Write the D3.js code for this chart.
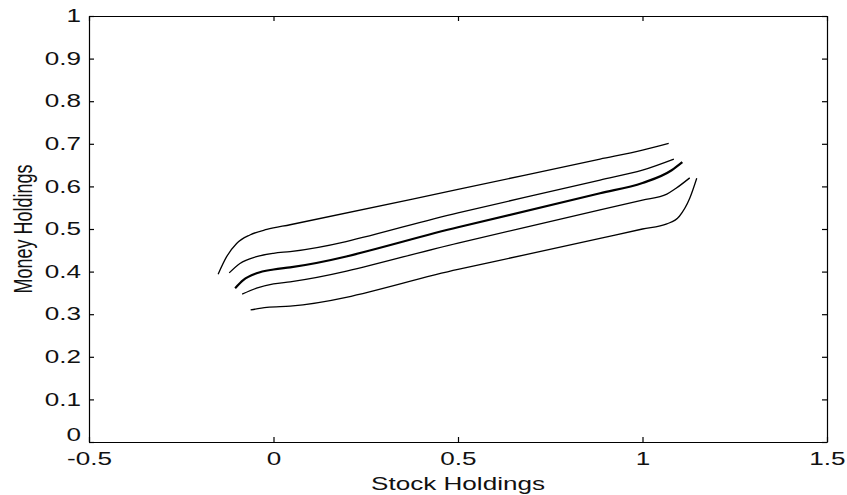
<!DOCTYPE html>
<html>
<head>
<meta charset="utf-8">
<script src="https://cdn.jsdelivr.net/npm/d3@7"></script>
<style>
	body { margin: 0; background: #fff; }
	svg text { font-family: "Liberation Sans", Arial, sans-serif; }
</style>
</head>
<body>
<svg id="chart" width="847" height="495"></svg>
<script>
var xTicks = [ -0.5, 0, 0.5, 1, 1.5 ];
var yTicks = [ 0, 0.1, 0.2, 0.3, 0.4, 0.5, 0.6, 0.7, 0.8, 0.9, 1 ];

// five boundary curves (top to bottom)
var stock1 = [ -0.150, -0.127, -0.100, -0.064, -0.018, 0.045, 0.500, 0.885, 1.000, 1.071 ];
var money1 = [ 0.394, 0.435, 0.466, 0.486, 0.499, 0.510, 0.593, 0.664, 0.685, 0.701 ];

var stock2 = [ -0.120, -0.091, -0.046, 0.000, 0.045, 0.500, 0.885, 1.000, 1.085 ];
var money2 = [ 0.397, 0.419, 0.435, 0.443, 0.447, 0.538, 0.615, 0.638, 0.664 ];

var stock3 = [ -0.104, -0.082, -0.046, 0.000, 0.045, 0.500, 0.885, 1.000, 1.079, 1.108 ];
var money3 = [ 0.361, 0.380, 0.396, 0.405, 0.410, 0.504, 0.584, 0.608, 0.638, 0.657 ];

var stock4 = [ -0.085, -0.046, 0.000, 0.045, 0.500, 0.885, 1.000, 1.066, 1.090, 1.128 ];
var money4 = [ 0.347, 0.361, 0.371, 0.376, 0.467, 0.545, 0.568, 0.582, 0.595, 0.620 ];

var stock5 = [ -0.062, -0.018, 0.045, 0.500, 0.885, 1.000, 1.066, 1.100, 1.128, 1.147 ];
var money5 = [ 0.310, 0.316, 0.319, 0.405, 0.478, 0.500, 0.512, 0.530, 0.572, 0.619 ];

var curves = [
	{ x: stock1, y: money1, w: 1.3 },
	{ x: stock2, y: money2, w: 1.3 },
	{ x: stock3, y: money3, w: 2.2 },
	{ x: stock4, y: money4, w: 1.3 },
	{ x: stock5, y: money5, w: 1.3 }
];

var margin = { top: 16, right: 20, bottom: 53, left: 89 };
var width = 847 - margin.left - margin.right;
var height = 495 - margin.top - margin.bottom;
var stretch = 1.45; // text in the picture is wider than tall

var svg = d3.select("#chart")//
.append("g")//
.attr("transform", "translate(" + margin.left + "," + margin.top + ")");

var x = d3.scaleLinear().domain([ -0.5, 1.5 ]).range([ 0, width ]);
var y = d3.scaleLinear().domain([ 0, 1 ]).range([ height, 0 ]);

function fmt(d) {
	return String(d);
}

// axes, ticks pointing inwards on all four sides
var gx = svg.append("g")//
.attr("transform", "translate(0," + height + ")")//
.call(d3.axisBottom(x).tickValues(xTicks).tickFormat(fmt).tickSizeInner(-5).tickSizeOuter(0).tickPadding(10));

var gy = svg.append("g")//
.call(d3.axisLeft(y).tickValues(yTicks).tickFormat(fmt).tickSizeInner(-5).tickSizeOuter(0).tickPadding(8));

svg.append("g")//
.call(d3.axisTop(x).tickValues(xTicks).tickFormat("").tickSizeInner(-5).tickSizeOuter(0));

svg.append("g")//
.attr("transform", "translate(" + width + ",0)")//
.call(d3.axisRight(y).tickValues(yTicks).tickFormat("").tickSizeInner(-5).tickSizeOuter(0));

svg.selectAll(".domain, .tick line").attr("stroke", "#000").attr("stroke-width", 1.2);

gx.selectAll("text")//
.attr("font-size", 18)//
.attr("font-family", "Liberation Sans, Arial, sans-serif")//
.attr("fill", "#111")//
.attr("transform", "scale(" + stretch + ",1)");

gy.selectAll("text")//
.attr("font-size", 18)//
.attr("font-family", "Liberation Sans, Arial, sans-serif")//
.attr("fill", "#111")//
.attr("x", -8 / stretch)//
.attr("y", function(d) {
	// the bottom "0" sits a little higher, clear of "-0.5"
	return d === 0 ? -7 : 0;
})//
.attr("transform", "scale(" + stretch + ",1)");

// curves
var line = d3.line()//
.x(function(d) {
	return x(d[0]);
})//
.y(function(d) {
	return y(d[1]);
})//
.curve(d3.curveMonotoneX);

svg.selectAll(".curve")//
.data(curves)//
.enter()//
.append("path")//
.attr("class", "curve")//
.attr("fill", "none")//
.attr("stroke", "#000")//
.attr("stroke-width", function(d) {
	return d.w;
})//
.attr("d", function(d) {
	return line(d3.zip(d.x, d.y));
});

// axis labels
svg.append("text")//
.attr("transform", "translate(" + (width / 2) + "," + (height + 48) + ") scale(" + stretch + ",1)")//
.attr("text-anchor", "middle")//
.attr("font-size", 18)//
.attr("fill", "#111")//
.text("Stock Holdings");

svg.append("text")//
.attr("transform", "translate(" + (32 - margin.left) + "," + (height / 2) + ") rotate(-90) scale(1," + stretch + ")")//
.attr("text-anchor", "middle")//
.attr("font-size", 18)//
.attr("fill", "#111")//
.text("Money Holdings");
</script>
</body>
</html>
